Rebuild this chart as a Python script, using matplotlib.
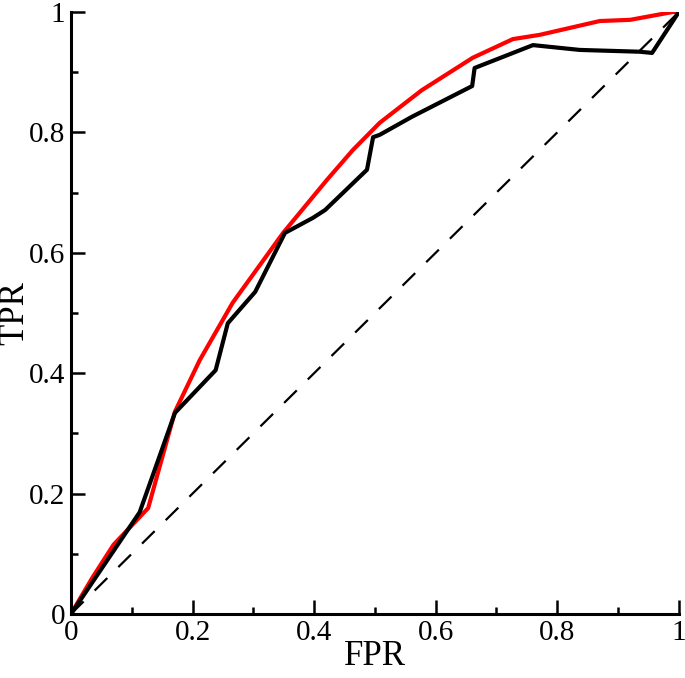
import matplotlib
matplotlib.use("Agg")
import matplotlib.pyplot as plt
from matplotlib.ticker import MultipleLocator

# red ROC curve
fpr_red = [0.0, 0.035, 0.07, 0.127, 0.171, 0.212, 0.266, 0.349, 0.421, 0.464,
           0.508, 0.577, 0.661, 0.727, 0.771, 0.87, 0.92, 0.99, 1.0]
tpr_red = [0.0, 0.06, 0.115, 0.176, 0.336, 0.422, 0.517, 0.633, 0.721, 0.771,
           0.816, 0.870, 0.924, 0.955, 0.962, 0.985, 0.987, 1.0, 1.0]

# black ROC curve
fpr_black = [0.0, 0.113, 0.171, 0.238, 0.258, 0.303, 0.352, 0.398, 0.418, 0.487,
             0.497, 0.508, 0.561, 0.66, 0.664, 0.76, 0.837, 0.936, 0.956, 1.0]
tpr_black = [0.0, 0.169, 0.334, 0.405, 0.483, 0.535, 0.633, 0.658, 0.671, 0.738,
             0.792, 0.796, 0.826, 0.877, 0.907, 0.945, 0.937, 0.934, 0.932, 1.0]

diag = [0.0, 1.0]
ticks = [0, 0.2, 0.4, 0.6, 0.8, 1]
tick_labels = ["0", "0.2", "0.4", "0.6", "0.8", "1"]

plt.rcParams["font.family"] = ["Liberation Serif", "DejaVu Serif"]

fig = plt.figure(figsize=(6.85, 6.78), dpi=100)
ax = fig.add_axes([0.1036, 0.0944, 0.8874, 0.8879])

ax.plot(diag, diag, color="black", lw=1.6, dashes=(8, 7))
ax.plot(fpr_red, tpr_red, color="#ff0000", lw=3)
ax.plot(fpr_black, tpr_black, color="black", lw=3)

ax.set_xlim(0, 1)
ax.set_ylim(0, 1)
for side in ("top", "right"):
    ax.spines[side].set_visible(False)
for side in ("left", "bottom"):
    ax.spines[side].set_linewidth(2.2)

ax.set_xticks(ticks)
ax.set_xticklabels(tick_labels)
ax.set_yticks(ticks)
ax.set_yticklabels(tick_labels)
ax.xaxis.set_minor_locator(MultipleLocator(0.1))
ax.yaxis.set_minor_locator(MultipleLocator(0.1))
ax.tick_params(which="major", direction="in", length=10, width=1.8, labelsize=21, pad=4)
ax.tick_params(which="minor", direction="in", length=5, width=1.8)

ax.set_xlabel("FPR", fontsize=25, labelpad=-4)
ax.set_ylabel("TPR", fontsize=25, va="center")
ax.yaxis.set_label_coords(-0.092, 0.5)

fig.savefig("out.png", dpi=100)
